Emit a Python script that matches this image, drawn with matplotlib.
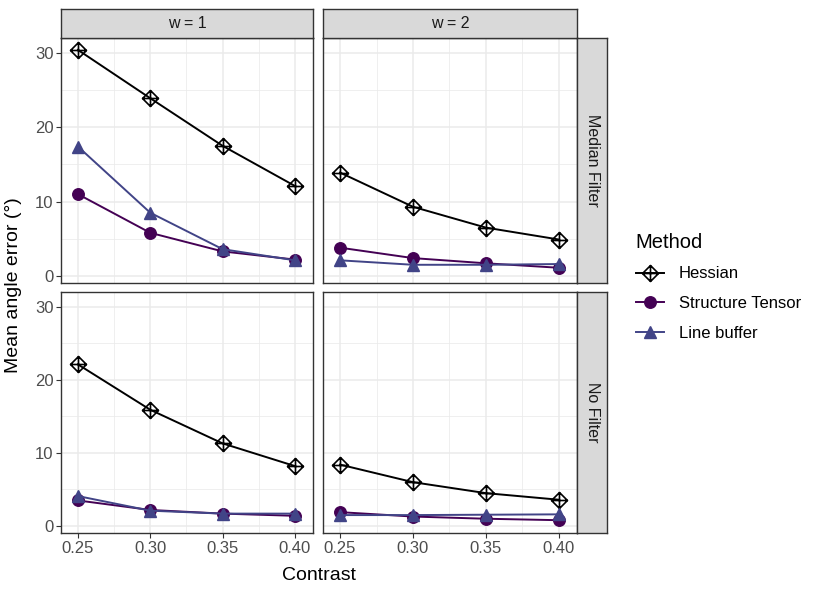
import numpy as np
import matplotlib.pyplot as plt
from matplotlib.path import Path
from matplotlib.lines import Line2D

plt.rcParams['font.family'] = ['Liberation Sans', 'DejaVu Sans']

contrast = [0.25, 0.30, 0.35, 0.40]
methods = ["Hessian", "Structure Tensor", "Line buffer"]
widths = ["w = 1", "w = 2"]
filters = ["Median Filter", "No Filter"]

# values per (filter, width) panel
hessian = {
    ("Median Filter", "w = 1"): [30.4, 23.9, 17.5, 12.1],
    ("Median Filter", "w = 2"): [13.9, 9.3, 6.5, 4.9],
    ("No Filter", "w = 1"): [22.1, 15.9, 11.3, 8.2],
    ("No Filter", "w = 2"): [8.4, 6.0, 4.5, 3.6],
}
structure = {
    ("Median Filter", "w = 1"): [11.0, 5.8, 3.3, 2.2],
    ("Median Filter", "w = 2"): [3.8, 2.4, 1.7, 1.1],
    ("No Filter", "w = 1"): [3.5, 2.2, 1.7, 1.4],
    ("No Filter", "w = 2"): [1.9, 1.3, 1.0, 0.8],
}
linebuf = {
    ("Median Filter", "w = 1"): [17.4, 8.5, 3.6, 2.1],
    ("Median Filter", "w = 2"): [2.1, 1.5, 1.5, 1.6],
    ("No Filter", "w = 1"): [4.1, 2.1, 1.7, 1.7],
    ("No Filter", "w = 2"): [1.5, 1.5, 1.55, 1.6],
}

# diamond with cross (ggplot shape 9)
verts = [(0, 1), (1, 0), (0, -1), (-1, 0), (0, 1),
         (-1, 0), (1, 0), (0, -1), (0, 1)]
codes = [Path.MOVETO, Path.LINETO, Path.LINETO, Path.LINETO, Path.CLOSEPOLY,
         Path.MOVETO, Path.LINETO, Path.MOVETO, Path.LINETO]
diamond_plus = Path(verts, codes)

styles = {
    "Hessian": dict(color="black", marker=diamond_plus, ms=11.5, mfc="none", mew=1.2),
    "Structure Tensor": dict(color="#440154", marker="o", ms=8.3),
    "Line buffer": dict(color="#414487", marker="^", ms=9),
}
series = {"Hessian": hessian, "Structure Tensor": structure, "Line buffer": linebuf}

W, H = 830, 591
fig = plt.figure(figsize=(W / 100, H / 100), dpi=100)

def px(x0, y0, x1, y1):
    return [x0 / W, 1 - y1 / H, (x1 - x0) / W, (y1 - y0) / H]

cols = [(61, 313), (323, 577)]
rows = [(38, 283), (292, 533)]
grey20 = "#333333"

for i, f in enumerate(filters):
    for j, w in enumerate(widths):
        x0, x1 = cols[j]
        y0, y1 = rows[i]
        ax = fig.add_axes(px(x0, y0, x1, y1))
        ax.set_facecolor("white")
        for m in methods:
            ax.plot(contrast, series[m][(f, w)], lw=1.4, label=m, zorder=3, **styles[m])
        ax.set_xlim(0.2383, 0.4125)
        ax.set_ylim(-0.95, 32.0)
        ax.set_xticks(contrast)
        ax.set_xticks([0.275, 0.325, 0.375], minor=True)
        ax.set_yticks([0, 10, 20, 30])
        ax.set_yticks([5, 15, 25], minor=True)
        ax.grid(True, which="major", color="#EBEBEB", lw=1.1, zorder=0)
        ax.grid(True, which="minor", color="#EBEBEB", lw=0.55, zorder=0)
        ax.set_axisbelow(True)
        for s in ax.spines.values():
            s.set_color(grey20)
            s.set_linewidth(1.0)
        ax.tick_params(which="minor", length=0)
        ax.tick_params(which="major", length=3.5, color=grey20, width=0.8,
                       labelsize=12, labelcolor="#4D4D4D", pad=2)
        if j != 0:
            ax.tick_params(axis="y", labelleft=False, length=0)
        if i != len(filters) - 1:
            ax.tick_params(axis="x", labelbottom=False, length=0)
        else:
            ax.set_xticklabels(["%.2f" % c for c in contrast])
        # top strips
        if i == 0:
            sax = fig.add_axes(px(x0, 9, x1, y0))
            sax.set_facecolor("#D9D9D9")
            sax.set_xticks([]); sax.set_yticks([])
            for s in sax.spines.values():
                s.set_color(grey20); s.set_linewidth(1.0)
            sax.text(0.5, 0.5, w, ha="center", va="center", fontsize=11.5,
                     color="#1A1A1A", transform=sax.transAxes)
        # right strips
        if j == len(widths) - 1:
            sax = fig.add_axes(px(x1, y0, 607, y1))
            sax.set_facecolor("#D9D9D9")
            sax.set_xticks([]); sax.set_yticks([])
            for s in sax.spines.values():
                s.set_color(grey20); s.set_linewidth(1.0)
            sax.text(0.5, 0.5, f, ha="center", va="center", fontsize=11.5,
                     rotation=-90, color="#1A1A1A", transform=sax.transAxes)

fig.text(319 / W, 1 - 576 / H, "Contrast", ha="center", va="center", fontsize=14)
fig.text(14 / W, 1 - 285 / H, "Mean angle error (°)", ha="center", va="center",
         fontsize=14, rotation=90)

handles = [Line2D([], [], lw=1.4, **styles[m]) for m in methods]
leg = fig.legend(handles, methods, title="Method", loc="upper left",
                 bbox_to_anchor=(629 / W, 1 - 226 / H), frameon=False,
                 fontsize=12, title_fontsize=14.5, handlelength=1.7,
                 labelspacing=0.88, handletextpad=0.9, borderaxespad=0)
leg._legend_box.align = "left"

fig.savefig("out.png", dpi=100)
